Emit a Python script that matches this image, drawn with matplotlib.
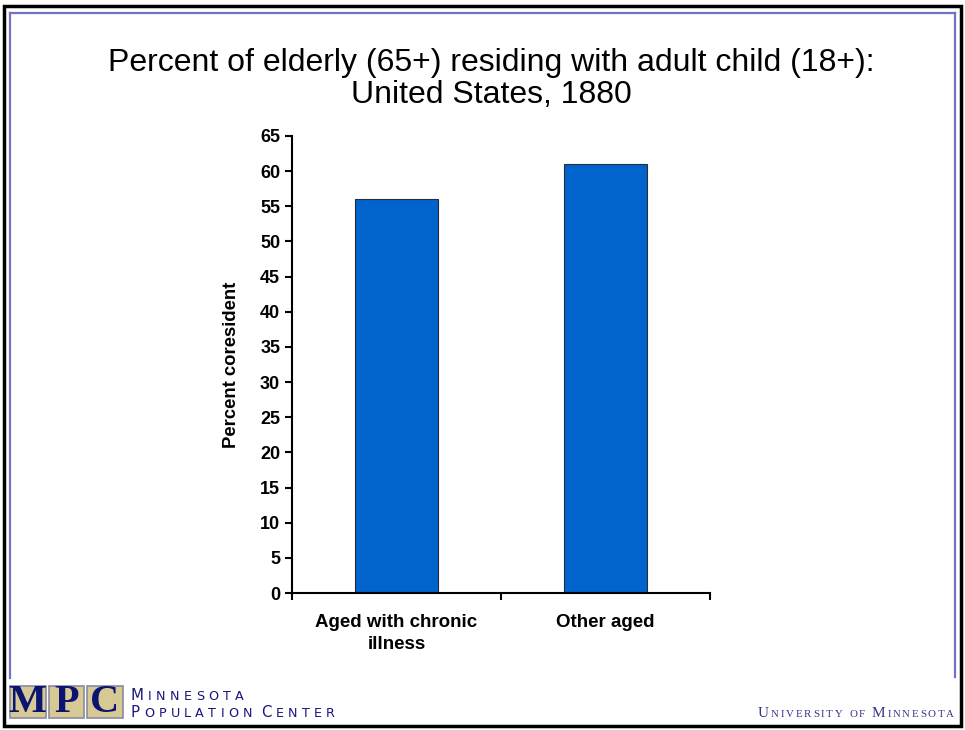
import matplotlib
matplotlib.use('Agg')
import matplotlib.pyplot as plt
from matplotlib.patches import Rectangle
from matplotlib.lines import Line2D

# Datos del gráfico
categorias = ['Aged with chronic\nillness', 'Other aged']
porcentajes = [56, 61]
ticks_y = list(range(0, 66, 5))

titulo = 'Percent of elderly (65+) residing with adult child (18+):\nUnited States, 1880'
etiqueta_y = 'Percent coresident'

W, H = 965, 730
plt.rcParams['font.family'] = ['Liberation Sans', 'DejaVu Sans']

fig = plt.figure(figsize=(W / 100, H / 100), dpi=100, facecolor='white')


def px(x, y):
    # pixeles (origen arriba a la izquierda) -> fracción de figura
    return x / W, 1 - y / H


# Marco de la diapositiva
x0, y0 = px(3.5, 5.5)
x1, y1 = px(960.5, 726.0)
fig.add_artist(Rectangle((x0, y1), x1 - x0, y0 - y1, transform=fig.transFigure,
                         fill=False, edgecolor='black', linewidth=2.5))
lav = '#7373c6'
for xa, ya, xb, yb in [(9.5, 678, 9.5, 13), (9.5, 13, 954.5, 13), (954.5, 13, 954.5, 677)]:
    (ax_, ay_), (bx_, by_) = px(xa, ya), px(xb, yb)
    fig.add_artist(Line2D([ax_, bx_], [ay_, by_], transform=fig.transFigure,
                          color=lav, linewidth=1.6))

# Título
tx, ty = px(491, 79)
fig.text(tx, ty, titulo, ha='center', va='center', fontsize=23, linespacing=1.1)

# Ejes
l, b = px(292, 593)
r, t = px(710, 136)
ax = fig.add_axes([l, b, r - l, t - b])
pos = list(range(len(categorias)))
ax.bar(pos, porcentajes, width=0.4, color='#0064cc', edgecolor='#2a2a3a', linewidth=0.8)
ax.set_xlim(-0.5, len(categorias) - 0.5)
ax.set_ylim(0, 65)
ax.set_yticks(ticks_y)
ax.set_xticks([p - 0.5 for p in range(len(categorias) + 1)])
ax.set_xticklabels([])
ax.set_xticks(pos, minor=True)
ax.set_xticklabels(categorias, minor=True, fontsize=13.5, fontweight='bold',
                   linespacing=1.4)
ax.tick_params(axis='x', which='minor', length=0, pad=15)
ax.tick_params(axis='both', which='major', direction='out', length=5, width=1.5,
               labelsize=13)
for lab in ax.get_yticklabels():
    lab.set_fontweight('bold')
ax.spines['top'].set_visible(False)
ax.spines['right'].set_visible(False)
ax.spines['left'].set_linewidth(1.5)
ax.spines['bottom'].set_linewidth(1.5)
lx, ly = px(232, 365)
fig.text(lx, ly, etiqueta_y, rotation=90, ha='center', va='center',
         fontsize=13.3, fontweight='bold')


# Logotipos inferiores
def versalitas(x, y, texto, grande, chica, espacio, **kw):
    # texto en versalitas, letra a letra, con espaciado extra entre letras
    rend = fig.canvas.get_renderer()
    for palabra in texto.split(' '):
        for c in palabra:
            tam = grande if c.isupper() else chica
            fx, fy = px(x, y)
            tt = fig.text(fx, fy, c.upper(), fontsize=tam, va='baseline', ha='left', **kw)
            x += tt.get_window_extent(rend).width + espacio
        x += grande * 0.45


azul_mpc = '#17177e'
for i, letra in enumerate('MPC'):
    bx, by = px(10 + i * 38.5, 718)
    fig.add_artist(Rectangle((bx, by), 35.5 / W, 32 / H, transform=fig.transFigure,
                             facecolor='#d6c994', edgecolor='#8a8aa2', linewidth=1.2))
    cx, cy = px(10 + i * 38.5 + 17.8, 703)
    fig.text(cx, cy, letra, ha='center', va='center', fontsize=29, fontweight='bold',
             family='Liberation Serif', color='#0b1470')
versalitas(131, 700, 'Minnesota', 10.8, 9.2, 4.2, color=azul_mpc, family='DejaVu Sans')
versalitas(131, 717, 'Population Center', 10.8, 9.2, 4.2, color=azul_mpc,
           family='DejaVu Sans')
versalitas(758, 717, 'University of Minnesota', 11, 7.8, 1.8, color='#33338a',
           family='Liberation Serif')

fig.savefig('out.png', dpi=100, facecolor='white')
